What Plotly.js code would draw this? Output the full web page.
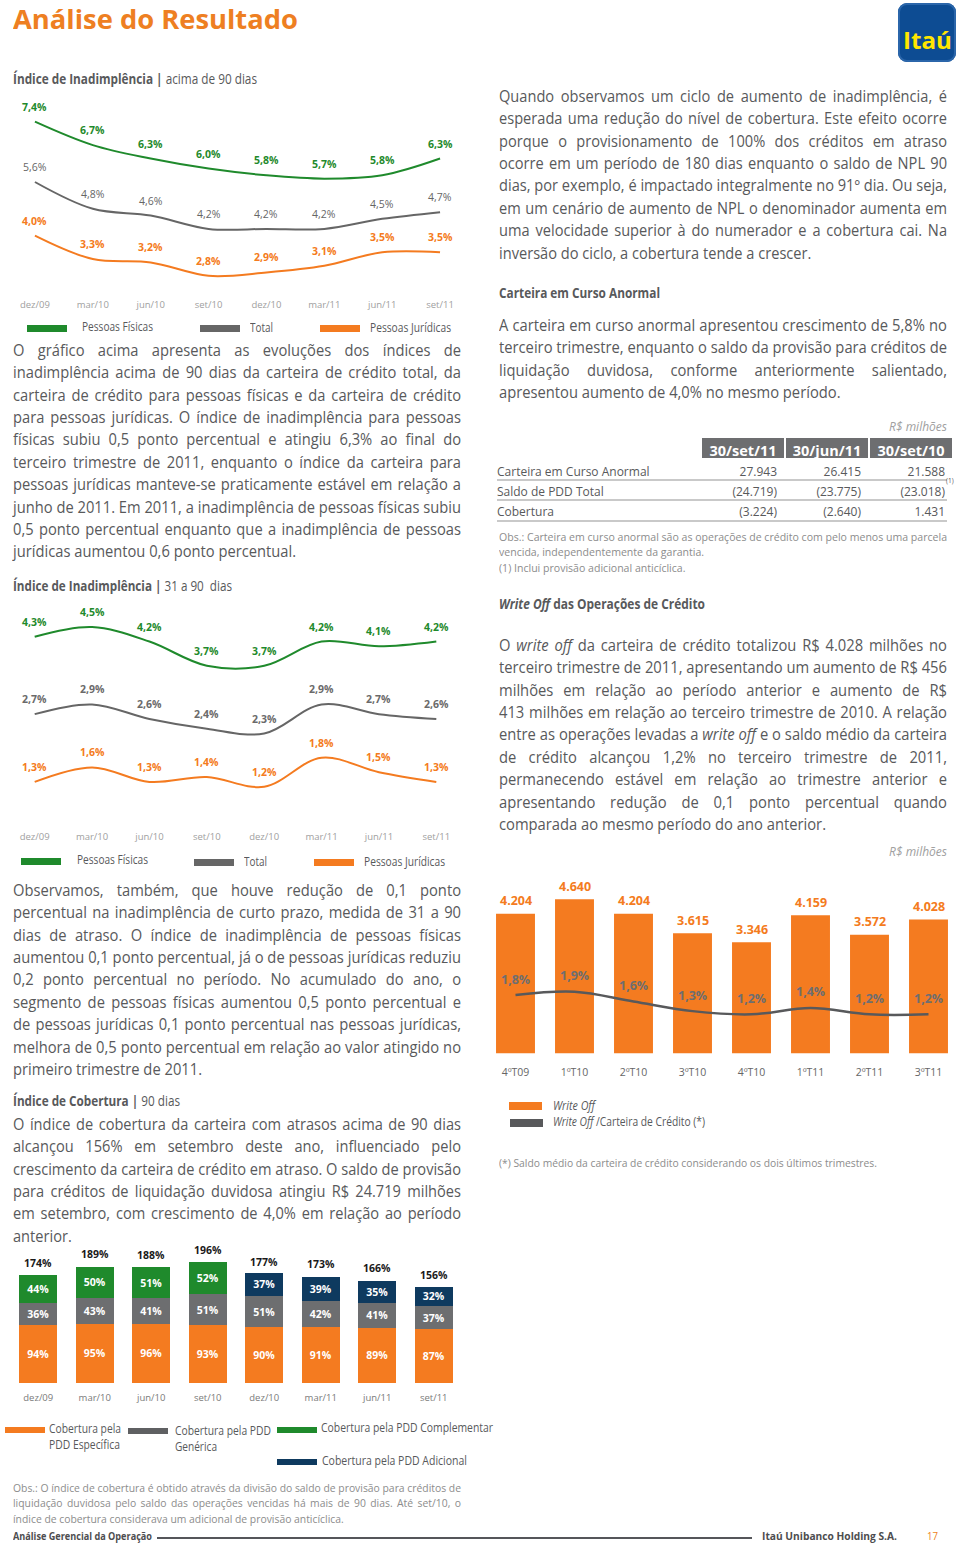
<!DOCTYPE html>
<html><head><meta charset="utf-8">
<script src="https://cdn.plot.ly/plotly-3.0.1.min.js"></script>
<style>
html,body{margin:0;padding:0;background:#fff;}
body{width:960px;height:1546px;position:relative;overflow:hidden;font-family:'Open Sans',sans-serif;}
.ln{position:absolute;white-space:nowrap;transform-origin:0 50%;}
.plot{position:absolute;}
.bx{position:absolute;}
</style></head><body>
<div id="c1" class="plot"></div>
<div id="c2" class="plot"></div>
<div id="c3" class="plot"></div>
<div id="c4" class="plot"></div>
<div id="tbl" class="plot"></div>
<script>
// ---------------- DATA ----------------
const quarters = ['dez/09','mar/10','jun/10','set/10','dez/10','mar/11','jun/11','set/11'];
const npl90PF = [7.4,6.7,6.3,6.0,5.8,5.7,5.8,6.3];
const npl90Total = [5.6,4.8,4.6,4.2,4.2,4.2,4.5,4.7];
const npl90PJ = [4.0,3.3,3.2,2.8,2.9,3.1,3.5,3.5];
const npl3190PF = [4.3,4.5,4.2,3.7,3.7,4.2,4.1,4.2];
const npl3190Total = [2.7,2.9,2.6,2.4,2.3,2.9,2.7,2.6];
const npl3190PJ = [1.3,1.6,1.3,1.4,1.2,1.8,1.5,1.3];
const covEspecifica = [94,95,96,93,90,91,89,87];
const covGenerica = [36,43,41,51,51,42,41,37];
const covComplementar = [44,50,51,52,null,null,null,null];
const covAdicional = [null,null,null,null,37,39,35,32];
const covTotal = [174,189,188,196,177,173,166,156];
const woQuarters = ['4ºT09','1ºT10','2ºT10','3ºT10','4ºT10','1ºT11','2ºT11','3ºT11'];
const writeOff = [4204,4640,4204,3615,3346,4159,3572,4028];
const writeOffRatio = [1.8,1.9,1.6,1.3,1.2,1.4,1.2,1.2];
const tableCols = ['30/set/11','30/jun/11','30/set/10'];
const tableRows = ['Carteira em Curso Anormal','Saldo de PDD Total','Cobertura'];
const tableSet11 = ['27.943','(24.719)','(3.224)'];
const tableJun11 = ['26.415','(23.775)','(2.640)'];
const tableSet10 = ['21.588','(23.018)','1.431'];

const textIntro90 = [
 'O gráfico acima apresenta as evoluções dos índices de',
 'inadimplência acima de 90 dias da carteira de crédito total, da',
 'carteira de crédito para pessoas físicas e da carteira de crédito',
 'para pessoas jurídicas. O índice de inadimplência para pessoas',
 'físicas subiu 0,5 ponto percentual e atingiu 6,3% ao final do',
 'terceiro trimestre de 2011, enquanto o índice da carteira para',
 'pessoas jurídicas manteve-se praticamente estável em relação a',
 'junho de 2011. Em 2011, a inadimplência de pessoas físicas subiu',
 '0,5 ponto percentual enquanto que a inadimplência de pessoas',
 'jurídicas aumentou 0,6 ponto percentual.'];
const text3190 = [
 'Observamos, também, que houve redução de 0,1 ponto',
 'percentual na inadimplência de curto prazo, medida de 31 a 90',
 'dias de atraso. O índice de inadimplência de pessoas físicas',
 'aumentou 0,1 ponto percentual, já o de pessoas jurídicas reduziu',
 '0,2 ponto percentual no período. No acumulado do ano, o',
 'segmento de pessoas físicas aumentou 0,5 ponto percentual e',
 'de pessoas jurídicas 0,1 ponto percentual nas pessoas jurídicas,',
 'melhora de 0,5 ponto percentual em relação ao valor atingido no',
 'primeiro trimestre de 2011.'];
const textCobertura = [
 'O índice de cobertura da carteira com atrasos acima de 90 dias',
 'alcançou 156% em setembro deste ano, influenciado pelo',
 'crescimento da carteira de crédito em atraso. O saldo de provisão',
 'para créditos de liquidação duvidosa atingiu R$ 24.719 milhões',
 'em setembro, com crescimento de 4,0% em relação ao período',
 'anterior.'];
const textCiclo = [
 'Quando observamos um ciclo de aumento de inadimplência, é',
 'esperada uma redução do nível de cobertura. Este efeito ocorre',
 'porque o provisionamento de 100% dos créditos em atraso',
 'ocorre em um período de 180 dias enquanto o saldo de NPL 90',
 'dias, por exemplo, é impactado integralmente no 91º dia. Ou seja,',
 'em um cenário de aumento de NPL o denominador aumenta em',
 'uma velocidade superior à do numerador e a cobertura cai. Na',
 'inversão do ciclo, a cobertura tende a crescer.'];
const textCarteira = [
 'A carteira em curso anormal apresentou crescimento de 5,8% no',
 'terceiro trimestre, enquanto o saldo da provisão para créditos de',
 'liquidação duvidosa, conforme anteriormente salientado,',
 'apresentou aumento de 4,0% no mesmo período.'];
const textWriteOff = [
 'O <i>write off</i> da carteira de crédito totalizou R$ 4.028 milhões no',
 'terceiro trimestre de 2011, apresentando um aumento de R$ 456',
 'milhões em relação ao período anterior e aumento de R$',
 '413 milhões em relação ao terceiro trimestre de 2010. A relação',
 'entre as operações levadas a <i>write off</i> e o saldo médio da carteira',
 'de crédito alcançou 1,2% no terceiro trimestre de 2011,',
 'permanecendo estável em relação ao trimestre anterior e',
 'apresentando redução de 0,1 ponto percentual quando',
 'comparada ao mesmo período do ano anterior.'];
const obsTabela = [
 'Obs.: Carteira em curso anormal são as operações de crédito com pelo menos uma parcela',
 'vencida, independentemente da garantia.',
 '(1) Inclui provisão adicional anticíclica.'];
const obsCobertura = [
 'Obs.: O índice de cobertura é obtido através da divisão do saldo de provisão para créditos de',
 'liquidação duvidosa pelo saldo das operações vencidas há mais de 90 dias. Até set/10, o',
 'índice de cobertura considerava um adicional de provisão anticíclica.'];

// ---------------- STYLE ----------------
const FONT = 'Open Sans, sans-serif';
const C_GREEN = '#1F8A2C', C_GRAY = '#6D6E70', C_ORANGE = '#F47B20', C_NAVY = '#0E3A5F';
const C_TEXT = '#58595B', C_LIGHT = '#8C8C8C';
const cfg = {staticPlot: true, displayModeBar: false};
const pct = v => v.toFixed(1).replace('.', ',') + '%';
const thou = v => String(v).replace(/\B(?=(\d{3})+(?!\d))/g, '.');

// ---------------- TEXT HELPERS ----------------
function mk(html, x, yc, size, o) {
  o = o || {};
  const d = document.createElement('div');
  d.className = 'ln';
  d.innerHTML = html;
  d.style.left = x + 'px';
  d.style.top = (yc - size * 0.72) + 'px';
  d.style.fontSize = size + 'px';
  d.style.lineHeight = (size * 1.25) + 'px';
  d.style.color = o.color || C_TEXT;
  if (o.weight) d.style.fontWeight = o.weight;
  if (o.italic) d.style.fontStyle = 'italic';
  document.body.appendChild(d);
  if (o.fit) {
    const n = d.getBoundingClientRect().width;
    d.style.transform = 'scaleX(' + (o.fit / n) + ')';
  }
  if (o.right) {
    const n = d.getBoundingClientRect().width;
    d.style.left = (o.right - n) + 'px';
  }
  return d;
}
function para(lines, x, y0, lh, W, size, o) {
  o = o || {};
  const ds = lines.map((t, i) => mk(t, x, y0 + i * lh, size, o));
  const ns = ds.map(d => d.getBoundingClientRect().width);
  const justN = (o.justN !== undefined) ? o.justN : ds.length - 1;
  const s = Math.min(1, W / Math.max(...ns));
  ds.forEach((d, i) => {
    if (i < justN) {
      const sp = (d.textContent.match(/ /g) || []).length;
      if (sp) d.style.wordSpacing = ((W / s - ns[i]) / sp) + 'px';
    }
    if (s < 1) d.style.transform = 'scaleX(' + s + ')';
  });
}
function box(x, y, w, h, color, extra) {
  const d = document.createElement('div');
  d.className = 'bx';
  d.style.left = x + 'px'; d.style.top = y + 'px';
  d.style.width = w + 'px'; d.style.height = h + 'px';
  d.style.background = color;
  if (extra) Object.assign(d.style, extra);
  document.body.appendChild(d);
  return d;
}

// ---------------- PAGE TEXT ----------------
mk('Análise do Resultado', 13, 21, 27, {color: '#EE7F22', weight: 700, fit: 285});
box(898, 3, 58, 59, '#0D4C93', {borderRadius: '9px', boxShadow: 'inset 0 0 0 2px #2B66AA'});
mk('Itaú', 903, 43, 23, {color: '#FFE600', weight: 700, fit: 49});

mk('<b>Índice de Inadimplência |</b> acima de 90 dias', 13, 80, 14, {fit: 244});
para(textIntro90, 13, 352, 22.4, 448, 15.5);
mk('<b>Índice de Inadimplência |</b> 31 a 90&nbsp; dias', 13, 587, 14, {fit: 219});
para(text3190, 13, 892, 22.4, 448, 15.5);
mk('<b>Índice de Cobertura |</b> 90 dias', 13, 1102, 14, {fit: 167});
para(textCobertura, 13, 1126, 22.4, 448, 15.5);

// legends chart 1
box(27, 325, 40, 7, C_GREEN); mk('Pessoas Físicas', 82, 328, 12, {fit: 71});
box(200, 325, 40, 7, '#666666'); mk('Total', 250, 329, 12, {fit: 23});
box(320, 325, 40, 7, C_ORANGE); mk('Pessoas Jurídicas', 370, 329, 12, {fit: 81});
// legends chart 2
box(21, 858, 40, 7, C_GREEN); mk('Pessoas Físicas', 77, 861, 12, {fit: 71});
box(194, 859, 40, 7, '#666666'); mk('Total', 244, 863, 12, {fit: 23});
box(314, 859, 40, 7, C_ORANGE); mk('Pessoas Jurídicas', 364, 863, 12, {fit: 81});
// coverage legend
box(5, 1427, 40, 6, C_ORANGE); mk('Cobertura pela', 49, 1430, 12, {fit: 72}); mk('PDD Específica', 49, 1446, 12, {fit: 71});
box(128, 1428, 40, 6, '#5F6062'); mk('Cobertura pela PDD', 175, 1432, 12, {fit: 96}); mk('Genérica', 175, 1448, 12, {fit: 42});
box(277, 1427, 40, 6, C_GREEN); mk('Cobertura pela PDD Complementar', 321, 1429, 12, {fit: 172});
box(277, 1459, 40, 6, C_NAVY); mk('Cobertura pela PDD Adicional', 322, 1462, 12, {fit: 145});
para(obsCobertura, 13, 1489, 15.5, 448, 11.5, {color: C_LIGHT, justN: 2});

// footer
mk('Análise Gerencial da Operação', 13, 1538, 10.5, {weight: 700, color: '#4D4D4F', fit: 139});
box(157, 1537, 595, 2, '#55565A');
mk('Itaú Unibanco Holding S.A.', 762, 1538, 10.5, {weight: 700, color: '#4D4D4F', fit: 135});
mk('17', 927, 1538, 10.5, {color: '#EE7F22', fit: 11});

// right column
para(textCiclo, 499, 98, 22.4, 448, 15.5);
mk('<b>Carteira em Curso Anormal</b>', 499, 294, 14, {fit: 161});
para(textCarteira, 499, 327, 22.4, 448, 15.5);
mk('R$ milhões', 0, 428, 12, {italic: true, color: '#A0A0A0', right: 947});
mk('(1)', 946, 482, 6.5, {color: C_TEXT});
para(obsTabela, 499, 538, 15.5, 448, 11.5, {color: C_LIGHT, justN: 1});
mk('<b><i>Write Off</i> das Operações de Crédito</b>', 499, 605, 14, {fit: 206});
para(textWriteOff, 499, 647, 22.4, 448, 15.5);
mk('R$ milhões', 0, 853, 12, {italic: true, color: '#A0A0A0', right: 947});
box(509, 1102, 33, 8, C_ORANGE); mk('<i>Write Off</i>', 553, 1107, 12, {fit: 42});
box(510, 1119, 33, 8, '#58595B'); mk('<i>Write Off</i> /Carteira de Crédito (*)', 553, 1123, 12, {fit: 152});
mk('(*) Saldo médio da carteira de crédito considerando os dois últimos trimestres.', 499, 1164, 11.5, {color: C_LIGHT, fit: 378});

// ---------------- CHART HELPERS ----------------
function plotBox(id, x0, x1, y0, y1, m) {
  const el = document.getElementById(id);
  const W = (x1 - x0) + m.l + m.r, H = (y1 - y0) + m.t + m.b;
  el.style.left = (x0 - m.l) + 'px'; el.style.top = (y0 - m.t) + 'px';
  el.style.width = W + 'px'; el.style.height = H + 'px';
  return {width: W, height: H, margin: {l: m.l, r: m.r, t: m.t, b: m.b, pad: 0}};
}
function baseLayout(lay, tickColor, tickSize) {
  return Object.assign(lay, {
    paper_bgcolor: 'rgba(0,0,0,0)', plot_bgcolor: 'rgba(0,0,0,0)',
    showlegend: false, font: {family: FONT}, separators: ',.',
    xaxis: {type: 'category', range: [-0.5, 7.5], showgrid: false, zeroline: false, showline: false,
            ticks: '', tickfont: {family: FONT, size: tickSize, color: tickColor}, fixedrange: true}
  });
}
function lineChart(id, pbox, yr, series) {
  const lay = baseLayout(plotBox(id, pbox[0], pbox[1], pbox[2], pbox[3], {l: 6, r: 8, t: 12, b: 26}), '#A0A0A0', 9.5);
  lay.yaxis = {range: yr, visible: false, fixedrange: true};
  const traces = series.map(s => ({type: 'scatter', mode: 'lines', x: quarters, y: s.y, name: s.name,
    line: {color: s.color, width: 2, shape: 'spline', smoothing: 1}, hoverinfo: 'skip', cliponaxis: false}));
  lay.annotations = [];
  series.forEach(s => s.y.forEach((v, i) => lay.annotations.push({
    x: quarters[i], y: v, xref: 'x', yref: 'y', showarrow: false, yshift: 15,
    text: s.bold ? '<b>' + pct(v) + '</b>' : pct(v),
    font: {family: FONT, size: 10.5, color: s.labelColor || s.color}})));
  Plotly.newPlot(id, traces, lay, cfg);
}

// Chart 1: > 90 dias
lineChart('c1', [6.05, 469.25, 95, 297], [2.167, 8.197], [
  {y: npl90PF, name: 'Pessoas Físicas', color: C_GREEN, bold: true},
  {y: npl90Total, name: 'Total', color: '#666666', labelColor: '#666666', bold: false},
  {y: npl90PJ, name: 'Pessoas Jurídicas', color: C_ORANGE, bold: true}]);
// Chart 2: 31 a 90 dias
lineChart('c2', [6.3, 465.5, 600, 829], [0.327, 5.058], [
  {y: npl3190PF, name: 'Pessoas Físicas', color: C_GREEN, bold: true},
  {y: npl3190Total, name: 'Total', color: '#666666', labelColor: '#6A6A6A', bold: true},
  {y: npl3190PJ, name: 'Pessoas Jurídicas', color: C_ORANGE, bold: true}]);

// Chart 3: cobertura
(function () {
  const lay = baseLayout(plotBox('c3', 9.75, 461.75, 1240.5, 1389, {l: 9, r: 10, t: 16, b: 25}), '#7A7A7A', 9.5);
  lay.yaxis = {range: [-12, 230], visible: false, fixedrange: true};
  lay.barmode = 'stack'; lay.bargap = 0.327;
  const seg = (y, color, name) => ({type: 'bar', x: quarters, y: y, name: name, marker: {color: color},
    text: y.map(v => v == null ? '' : '<b>' + v + '%</b>'), textposition: 'inside', insidetextanchor: 'middle',
    textangle: 0, constraintext: 'none', insidetextfont: {family: FONT, size: 10.5, color: 'white'}, hoverinfo: 'skip'});
  const traces = [
    seg(covEspecifica, C_ORANGE, 'Cobertura pela PDD Específica'),
    seg(covGenerica, C_GRAY, 'Cobertura pela PDD Genérica'),
    seg(covComplementar, C_GREEN, 'Cobertura pela PDD Complementar'),
    seg(covAdicional, C_NAVY, 'Cobertura pela PDD Adicional')];
  lay.annotations = covTotal.map((v, i) => ({x: quarters[i], y: v, xref: 'x', yref: 'y', showarrow: false,
    yshift: 12, text: '<b>' + v + '%</b>', font: {family: FONT, size: 10.5, color: '#1A1A1A'}}));
  Plotly.newPlot('c3', traces, lay, cfg);
})();

// Chart 4: write off
(function () {
  const lay = baseLayout(plotBox('c4', 486, 958.2, 885, 1064, {l: 6, r: 1.5, t: 15, b: 25}), '#666666', 10.5);
  lay.yaxis = {range: [-322, 5069], visible: false, fixedrange: true};
  lay.yaxis2 = {range: [-0.342, 5.217], visible: false, overlaying: 'y', fixedrange: true};
  lay.bargap = 0.34;
  const traces = [
    {type: 'bar', x: woQuarters, y: writeOff, marker: {color: C_ORANGE}, hoverinfo: 'skip', name: 'Write Off'},
    {type: 'scatter', mode: 'lines', x: woQuarters, y: writeOffRatio, yaxis: 'y2', name: 'Write Off /Carteira de Crédito (*)',
     line: {color: '#58595B', width: 2.5, shape: 'spline', smoothing: 1}, hoverinfo: 'skip', cliponaxis: false}];
  lay.annotations = writeOff.map((v, i) => ({x: woQuarters[i], y: v, xref: 'x', yref: 'y', showarrow: false,
    yshift: 13, text: '<b>' + thou(v) + '</b>', font: {family: FONT, size: 12.5, color: C_ORANGE}}))
    .concat(writeOffRatio.map((v, i) => ({x: woQuarters[i], y: v, xref: 'x', yref: 'y2', showarrow: false,
    yshift: 16, text: '<b>' + pct(v) + '</b>', font: {family: FONT, size: 12.5, color: '#6D6E70'}})));
  Plotly.newPlot('c4', traces, lay, cfg);
})();

// Table
(function () {
  const el = document.getElementById('tbl');
  const L = 489, T = 437, W = 464, H = 90;
  el.style.left = L + 'px'; el.style.top = T + 'px'; el.style.width = W + 'px'; el.style.height = H + 'px';
  const sep = [480, 500, 521].map(y => ({type: 'line', xref: 'paper', yref: 'paper',
    x0: (497 - L) / W, x1: (947 - L) / W, y0: 1 - (y - T) / H, y1: 1 - (y - T) / H,
    line: {color: '#C9C9C9', width: 2}}));
  Plotly.newPlot('tbl', [{type: 'table', columnwidth: [212, 84, 84, 84],
    header: {values: [''].concat(tableCols),
      fill: {color: ['white', '#6D6E70', '#6D6E70', '#6D6E70']}, line: {color: 'white', width: 2},
      align: 'center', font: {family: FONT, size: 14.5, color: 'white', weight: 700}, height: 22},
    cells: {values: [tableRows, tableSet11, tableJun11, tableSet10], align: ['left', 'right', 'right', 'right'],
      fill: {color: 'white'}, line: {color: 'white', width: 1}, font: {family: FONT, size: 12, color: C_TEXT}, height: 20}}],
    {width: W, height: H, margin: {l: 0, r: 0, t: 0, b: 0}, paper_bgcolor: 'rgba(0,0,0,0)', shapes: sep}, cfg);
})();
</script>
</body></html>
